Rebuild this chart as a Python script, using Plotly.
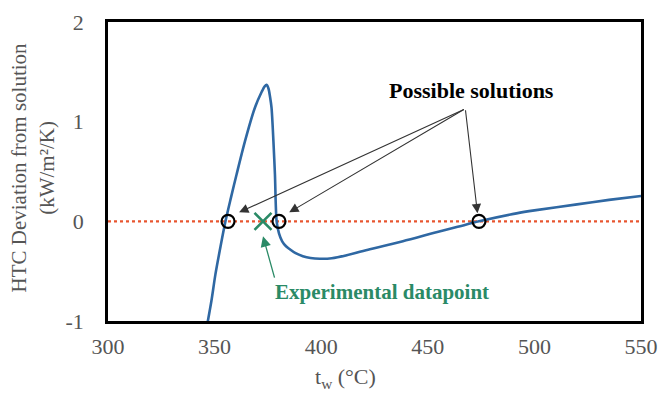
import plotly.graph_objects as go

# Curve: HTC deviation vs wall temperature
tw = [346.5, 348.5, 350.4, 352.8, 355.1, 357.7, 360.3, 364.2, 368.9, 372.1, 373.5, 374.4, 375.3, 376.0, 376.7, 377.6, 378.3,
      379.1, 380.2, 381.7, 383.5, 385.3, 388.0, 391.4, 395.0, 399.4, 405.0, 412.0, 422.8, 438.3, 454.0, 464.0, 474.0,
      491.6, 500.0, 520.0, 535.0, 550.0]
dev = [-1.04, -0.8, -0.53, -0.25, 0.0, 0.24, 0.47, 0.80, 1.14, 1.30, 1.355, 1.37, 1.33, 1.25, 1.14, 0.80, 0.47,
       0.0, -0.12, -0.2, -0.25, -0.28, -0.32, -0.35, -0.368, -0.375, -0.37, -0.34, -0.28, -0.2, -0.11, -0.055, 0.0,
       0.08, 0.11, 0.17, 0.215, 0.255]

solutions_t = [356.3, 380.2, 474.0]
solutions_dev = [0, 0, 0]
exp_t = [372.7]
exp_dev = [0]

x_ticks = [300, 350, 400, 450, 500, 550]
y_ticks = [-1, 0, 1, 2]
y_ticktext = ["-1", "0", "1", "2"]

# arrows: head positions (data coords)
arrow_heads_t = [361.5, 385.0, 473.3]
arrow_heads_dev = [0.09, 0.09, 0.08]
arrow_tail = (467.6, 1.13)

serif = "Liberation Serif, Times New Roman, serif"
green = "#2a8a66"
gray = "#555555"

fig = go.Figure()

fig.add_trace(go.Scatter(x=[300, 550], y=[0, 0], mode="lines",
                         line=dict(color="#e8552f", width=2.2, dash="dot"),
                         hoverinfo="skip", showlegend=False))

fig.add_trace(go.Scatter(x=tw, y=dev, mode="lines",
                         line=dict(color="#2f68a3", width=2.6, shape="spline", smoothing=0.8),
                         showlegend=False))

fig.add_trace(go.Scatter(x=solutions_t, y=solutions_dev, mode="markers",
                         marker=dict(symbol="circle-open", size=13, color="black", line=dict(width=2.2, color="black")),
                         showlegend=False))

fig.add_trace(go.Scatter(x=exp_t, y=exp_dev, mode="markers",
                         marker=dict(symbol="x-thin-open", size=17, color=green, line=dict(width=2.6, color=green)),
                         showlegend=False))

for ht, hd in zip(arrow_heads_t, arrow_heads_dev):
    fig.add_annotation(x=ht, y=hd, ax=arrow_tail[0], ay=arrow_tail[1], axref="x", ayref="y",
                       xref="x", yref="y", text="", showarrow=True, arrowhead=2, arrowsize=1.7,
                       arrowwidth=1.1, arrowcolor="#333333", standoff=0)

fig.add_annotation(x=470.5, y=1.31, xref="x", yref="y", text="<b>Possible solutions</b>", showarrow=False,
                   font=dict(family=serif, size=22, color="black"))

fig.add_annotation(x=372.7, y=-0.15, ax=378.3, ay=-0.58, axref="x", ayref="y", xref="x", yref="y",
                   text="", showarrow=True, arrowhead=2, arrowsize=1.6, arrowwidth=1.3,
                   arrowcolor=green, standoff=0)

fig.add_annotation(x=428.5, y=-0.71, xref="x", yref="y", text="<b>Experimental datapoint</b>", showarrow=False,
                   font=dict(family=serif, size=21, color=green))

fig.add_annotation(xref="paper", yref="paper", x=-0.141, y=0.513, xanchor="center", yanchor="middle",
                   text="HTC Deviation from solution<br>(kW/m²/K)", textangle=-90, showarrow=False,
                   font=dict(family=serif, size=21, color=gray))

fig.add_annotation(xref="paper", yref="paper", x=0.445, y=-0.19, xanchor="center", yanchor="middle",
                   text="t<sub>w</sub> (°C)", showarrow=False,
                   font=dict(family=serif, size=22, color=gray))

fig.update_layout(
    width=659, height=396,
    margin=dict(l=108, r=18, t=22, b=75, autoexpand=False),
    paper_bgcolor="white", plot_bgcolor="white",
    showlegend=False,
    xaxis=dict(range=[300, 550], tickvals=x_ticks, ticks="", showgrid=False, zeroline=False,
               showline=True, linecolor="black", linewidth=2.5, mirror=True, automargin=False,
               tickfont=dict(family=serif, size=22, color=gray), ticklabelstandoff=4),
    yaxis=dict(range=[-1, 2], tickvals=y_ticks, ticktext=y_ticktext, ticks="", showgrid=False, zeroline=False,
               showline=True, linecolor="black", linewidth=2.5, mirror=True, automargin=False,
               tickfont=dict(family=serif, size=22, color=gray), ticklabelstandoff=17),
)

fig.write_html("out.html")
